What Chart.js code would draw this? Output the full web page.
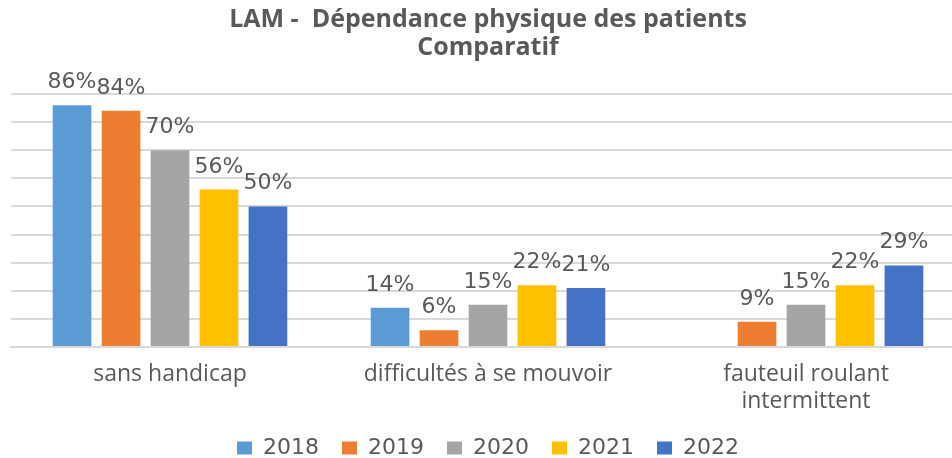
<!DOCTYPE html>
<html>
<head>
<meta charset="utf-8">
<script src="https://cdn.jsdelivr.net/npm/chart.js@4.4.1/dist/chart.umd.min.js"></script>
<style>
  html, body { margin: 0; padding: 0; background: #fff; overflow: hidden; }
  #boite { width: 952px; height: 458px; overflow: hidden; }
</style>
</head>
<body>
<div id="boite"><canvas id="graphique" width="976" height="469"></canvas></div>
<script>
// données
const categories = ["sans handicap", "difficultés à se mouvoir", ["fauteuil roulant", "intermittent"]];
const annees = ["2018", "2019", "2020", "2021", "2022"];
const valeurs2018 = [86, 14, null];
const valeurs2019 = [84, 6, 9];
const valeurs2020 = [70, 15, 15];
const valeurs2021 = [56, 22, 22];
const valeurs2022 = [50, 21, 29];
const couleurs = ["#5B9BD5", "#ED7D31", "#A5A5A5", "#FFC000", "#4472C4"];

const series = [valeurs2018, valeurs2019, valeurs2020, valeurs2021, valeurs2022];

// étiquettes au-dessus des barres
const etiquettes = {
  id: "etiquettes",
  afterDatasetsDraw(chart) {
    const ctx = chart.ctx;
    ctx.save();
    ctx.font = '22px "DejaVu Sans"';
    ctx.fillStyle = "#595959";
    ctx.textAlign = "center";
    ctx.textBaseline = "alphabetic";
    chart.data.datasets.forEach((ds, i) => {
      chart.getDatasetMeta(i).data.forEach((barre, j) => {
        const v = ds.data[j];
        if (v == null) return;
        ctx.fillText(v + "%", barre.x, barre.y - 17);
      });
    });
    ctx.restore();
  }
};

new Chart(document.getElementById("graphique"), {
  type: "bar",
  data: {
    labels: categories,
    datasets: annees.map((a, i) => ({
      label: a,
      data: series[i],
      backgroundColor: couleurs[i],
      borderWidth: 0,
      categoryPercentage: 0.77,
      barPercentage: 0.79
    }))
  },
  options: {
    responsive: false,
    animation: false,
    layout: { padding: { left: 11, right: 11, top: 6, bottom: 0 } },
    plugins: {
      title: {
        display: true,
        text: ["LAM -  Dépendance physique des patients", "Comparatif"],
        color: "#595959",
        font: { family: "Open Sans", size: 25, weight: "bold", lineHeight: 1.12 },
        padding: { top: 0, bottom: 32 }
      },
      legend: {
        position: "bottom",
        labels: {
          color: "#595959",
          font: { family: "DejaVu Sans", size: 22 },
          boxWidth: 15,
          boxHeight: 13,
          padding: 23
        }
      },
      tooltip: { enabled: false }
    },
    scales: {
      x: {
        grid: { display: false, drawTicks: false },
        border: { display: true, color: "#D9D9D9", width: 2 },
        ticks: {
          color: "#595959",
          font: { family: "Open Sans", size: 23, lineHeight: 1.17 },
          padding: 14,
          maxRotation: 0,
          autoSkip: false
        },
        afterFit(axe) { axe.height = 67; }
      },
      y: {
        min: 0,
        max: 90,
        ticks: { display: false, stepSize: 10 },
        grid: { color: "#D9D9D9", lineWidth: 2, drawTicks: false },
        border: { display: false }
      }
    }
  },
  plugins: [etiquettes]
});
</script>
</body>
</html>
